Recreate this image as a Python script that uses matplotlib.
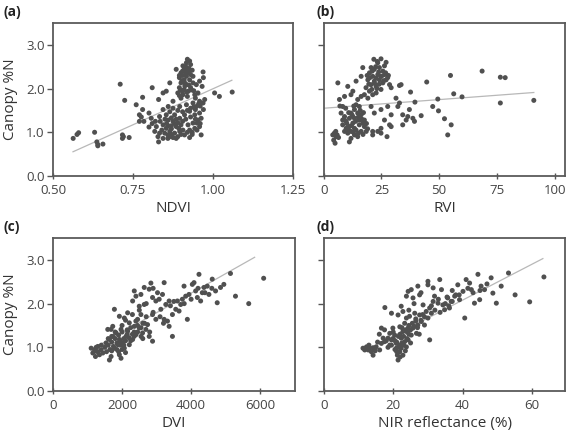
import numpy as np
import matplotlib.pyplot as plt

plt.rcParams['font.family'] = ['Open Sans', 'DejaVu Sans']

# (a) NDVI vs canopy %N
ndvi = [0.563, 0.575, 0.58, 0.63, 0.637, 0.64, 0.656, 0.64, 0.71, 0.724, 0.717, 0.72, 0.717, 0.738,
        0.76, 0.78, 0.78, 0.77, 0.776, 0.77, 0.784, 0.81, 0.80, 0.807, 0.80, 0.82, 0.83, 0.83,
        1.005, 1.02, 1.06, 0.97, 0.963, 0.969, 0.97, 0.966, 0.974,
        0.92, 0.927, 0.917, 0.93, 0.91, 0.885, 0.90, 0.92, 0.93, 0.895, 0.91, 0.927, 0.9375, 0.90,
        0.917, 0.895, 0.91, 0.93, 0.948, 0.958, 0.89, 0.906, 0.92, 0.943, 0.953, 0.90, 0.865, 0.854,
        0.844, 0.9375, 0.906, 0.917,
        0.875, 0.86, 0.875, 0.844, 0.896, 0.917, 0.9375, 0.958, 0.948, 0.969, 0.927, 0.911, 0.88,
        0.854, 0.833, 0.86, 0.875, 0.896, 0.943, 0.958, 0.953, 0.9375, 0.963,
        0.823, 0.844, 0.854, 0.87, 0.885, 0.90, 0.865, 0.849, 0.833, 0.818, 0.88, 0.896, 0.911,
        0.927, 0.943, 0.958, 0.844, 0.859, 0.875, 0.89, 0.927, 0.906, 0.922, 0.828, 0.859,
        0.87, 0.88, 0.86, 0.893, 0.95, 0.945, 0.96, 0.935, 0.915, 0.925, 0.905, 0.912, 0.923, 0.898, 0.94,
        0.905, 0.915, 0.925, 0.935, 0.895, 0.903, 0.913, 0.925, 0.933, 0.918, 0.905, 0.895, 0.945,
        0.955, 0.94, 0.93, 0.92, 0.905, 0.89, 0.865, 0.87, 0.885, 0.905, 0.915, 0.93, 0.945, 0.96,
        0.95, 0.935, 0.92, 0.885, 0.87, 0.855, 0.84, 0.835, 0.85, 0.89, 0.90, 0.865, 0.81]
n_a = [0.86, 0.95, 0.99, 1.00, 0.78, 0.72, 0.73, 0.69, 2.10, 1.73, 0.94, 0.90, 0.86, 0.88,
       1.63, 1.80, 1.52, 1.40, 1.35, 1.25, 1.25, 2.02, 1.44, 1.32, 1.12, 1.25, 1.75, 0.78,
       1.90, 1.82, 1.92, 1.52, 0.94, 2.38, 2.25, 2.05, 1.75,
       2.67, 2.63, 2.59, 2.55, 2.44, 2.44, 2.36, 2.40, 2.32, 2.25, 2.20, 2.20, 2.13, 2.13,
       2.09, 2.02, 1.98, 2.02, 2.09, 2.17, 1.90, 1.86, 1.82, 1.86, 1.90, 1.78, 2.13, 1.94,
       1.90, 2.28, 2.52, 2.28,
       1.71, 1.59, 1.55, 1.52, 1.59, 1.63, 1.67, 1.71, 1.59, 1.67, 1.48, 1.40, 1.40,
       1.40, 1.36, 1.28, 1.25, 1.32, 1.40, 1.44, 1.28, 1.21, 1.32,
       1.13, 1.17, 1.09, 1.15, 1.13, 1.17, 1.02, 0.98, 0.98, 1.02, 0.98, 1.02, 0.94,
       1.05, 1.09, 1.13, 0.86, 0.86, 0.88, 0.90, 0.88, 1.05, 1.17, 0.90, 0.94,
       1.08, 1.20, 1.15, 1.09, 1.21, 1.52, 1.60, 1.00, 2.34, 2.46, 2.30, 2.06, 1.94, 1.96, 1.95,
       2.40, 2.50, 2.36, 2.42, 2.30, 2.18, 2.12, 2.08, 1.97, 1.92, 1.94, 1.84, 1.78,
       1.65, 1.58, 1.55, 1.50, 1.47, 1.50, 1.47, 1.33, 1.30, 1.25, 1.30, 1.35, 1.30, 1.20,
       1.05, 0.95, 1.00, 0.86, 0.95, 1.20, 1.05, 1.25, 1.30, 1.22, 0.95, 0.90, 1.20]

# (b) RVI
rvi = [4.6, 5.3, 4.3, 5.8, 4.9, 6.4, 3.9, 6.1, 10.4, 6.8, 9.0, 8.2, 11.8, 12.6, 14.0, 16.2, 16.9,
       7.5, 9.0, 8.2, 9.7, 11.1, 11.8, 13.3, 14.0, 14.7, 15.4, 14.7, 16.2, 13.3, 12.6, 11.1, 9.7, 11.8,
       13.3, 14.0, 15.4, 16.9, 17.6, 14.7, 11.8, 11.1, 16.2, 18.4, 10.4, 9.0, 8.2, 17.6, 15.4, 13.3, 12.6,
       21.7, 24.8, 27.0, 23.4, 20.5, 21.9, 24.1, 25.6, 19.8, 21.2, 23.4, 26.3, 27.7, 19.1, 21.9, 24.1,
       20.5, 22.7, 25.6, 18.3, 19.8, 17.6, 21.2, 19.1, 16.2, 22.7, 24.8, 28.5, 29.2, 32.8, 33.5, 27.0,
       22.7, 24.8, 26.3,
       20.5, 21.9, 24.8, 27.7, 29.2, 26.3, 28.5, 29.2, 24.8, 21.2, 21.2, 23.4, 27.4, 24.8, 32.1, 31.3,
       32.8, 34.2, 35.7, 36.4, 37.1, 37.6, 38.6, 39.3, 39.5, 34.2, 42.2, 44.6, 47.2, 49.4, 49.7, 52.3,
       55.2, 53.7, 54.9, 56.3, 59.9, 68.6, 76.5, 76.5, 78.6, 91.0,
       10.0, 12.0, 13.8, 15.0, 16.5, 12.2, 10.8, 9.5, 13.0, 15.8, 17.2, 18.5, 19.0, 17.0, 15.0,
       12.8, 10.5, 8.8, 7.0, 5.2,
       20.0, 21.0, 22.5, 23.8, 25.0, 26.0, 22.0, 23.0, 20.8, 19.5, 24.0, 26.8, 23.2, 18.8, 28.0]
n_b = [0.98, 0.90, 0.82, 0.94, 0.75, 0.88, 0.94, 2.13, 2.05, 1.75, 1.82, 1.59, 1.86, 1.94, 2.17, 2.28, 2.48,
       1.44, 1.36, 1.28, 1.25, 1.32, 1.44, 1.52, 1.63, 1.75, 1.59, 1.44, 1.40, 1.32, 1.21, 1.13, 1.09, 1.02,
       0.94, 1.05, 1.17, 1.21, 1.13, 0.90, 0.86, 0.78, 1.02, 1.02, 0.98, 1.02, 1.17, 1.28, 1.28, 1.09, 1.36,
       2.67, 2.68, 2.60, 2.59, 2.48, 2.44, 2.48, 2.40, 2.36, 2.28, 2.32, 2.32, 2.25, 2.20, 2.17, 2.20,
       2.09, 2.05, 2.13, 2.02, 1.94, 1.86, 1.86, 1.78, 1.82, 1.90, 1.98, 2.09, 2.02, 2.07, 2.09, 2.20,
       2.24, 2.28, 2.52,
       1.59, 1.44, 1.52, 1.59, 1.40, 1.28, 1.17, 1.13, 1.09, 1.02, 0.94, 1.02, 0.90, 0.98, 1.59, 1.78,
       1.67, 1.40, 1.28, 1.36, 1.52, 1.92, 1.32, 1.25, 1.69, 1.17, 1.38, 2.15, 1.59, 1.76, 1.49, 1.31,
       1.17, 0.94, 2.30, 1.88, 1.81, 2.40, 1.67, 2.26, 2.25, 1.73,
       1.20, 1.15, 1.25, 1.35, 1.30, 1.40, 1.45, 1.55, 1.60, 1.50, 1.45, 1.20, 1.08, 0.95, 0.98,
       1.00, 1.08, 1.30, 1.60, 1.02,
       2.25, 2.40, 2.50, 2.38, 2.28, 2.18, 2.12, 2.00, 1.98, 2.10, 2.10, 2.36, 2.62, 2.30, 2.30]

# (c) DVI
dvi = [1105, 1202, 1153, 1250, 1346, 1298, 1394, 1442, 1230, 1634, 1682, 1922, 1970,
       1538, 1634, 1730, 1826, 1922, 2018, 2114, 1874, 1778, 2066, 2210, 2306, 2402, 2162, 1970,
       1682, 1730, 1586, 1778, 1922, 2066, 2162, 2210, 2354, 2450, 2498, 2594, 2690, 2786, 2883,
       2738, 2546,
       2306, 2402, 2354, 2546, 2642, 2835, 2786, 2883, 2979, 3027, 3075, 3219, 3171, 3123, 3267,
       3363, 3219, 3315, 3363, 2979, 2883, 2642, 2498,
       3459, 3555, 3651, 3699, 3603, 3747, 3843, 3795, 3939, 4035, 4084, 4131, 4180, 4276, 4324,
       4228, 4372, 4468, 4516, 4612, 4708, 4756, 4852, 4948, 5140, 5285, 3891, 3459, 5669, 6101,
       1500, 1600, 1700, 1800, 1900, 2000, 2100, 2200, 2300, 1750, 1850, 1950, 2050, 2150, 2250,
       2350, 2450, 1650, 1900, 2000, 2100, 2600, 2700, 2400, 2550,
       1400, 1550, 1700, 1850, 1950, 2050, 2150, 2250, 2350, 2450, 2550, 2650, 1800, 1700, 1600,
       2000, 2100, 2300, 2500, 2700, 2900, 3100, 3200, 3400, 3500, 3800, 4000, 4200, 4400, 4600,
       2800, 2600, 1300, 1250, 2900]
n_c = [0.98, 0.945, 0.87, 0.91, 0.83, 1.02, 0.945, 0.87, 0.79, 0.71, 0.79, 0.83, 0.75,
       1.10, 1.18, 1.25, 1.33, 1.18, 1.10, 1.25, 1.06, 0.98, 0.98, 1.06, 1.18, 1.29, 1.37, 1.41,
       1.41, 1.48, 1.41, 1.87, 1.71, 1.67, 1.79, 1.56, 1.48, 1.64, 1.44, 1.33, 1.41, 1.25, 1.14,
       1.52, 1.75,
       2.06, 2.17, 2.29, 2.21, 2.37, 2.47, 2.33, 2.14, 2.06, 2.25, 2.10, 2.48, 2.21, 1.87, 1.98,
       2.06, 1.64, 1.60, 1.48, 1.64, 1.75, 1.98, 1.94,
       1.75, 1.87, 1.83, 1.98, 2.06, 2.10, 2.17, 2.40, 2.21, 2.44, 2.48, 2.29, 2.14, 2.06, 2.25,
       2.67, 2.37, 2.40, 2.21, 2.56, 2.29, 2.02, 2.37, 2.44, 2.69, 2.17, 1.64, 1.25, 2.00, 2.58,
       1.00, 1.05, 1.12, 1.20, 1.28, 1.35, 1.15, 1.22, 1.30, 1.02, 1.10, 1.15, 1.05, 1.40, 1.45,
       1.35, 1.50, 0.95, 0.90, 0.95, 0.88, 1.55, 1.70, 1.60, 1.25,
       1.05, 0.90, 0.92, 0.95, 1.05, 1.20, 1.30, 1.15, 1.25, 1.35, 1.45, 1.55, 1.35, 1.25, 1.20,
       1.50, 1.62, 1.75, 1.85, 2.00, 1.80, 1.70, 1.55, 1.95, 2.05, 2.00, 2.10, 2.35, 2.25, 2.35,
       1.35, 1.20, 0.90, 1.00, 2.35]

# (d) NIR reflectance (%)
nir = [11.3, 11.8, 12.3, 12.8, 13.2, 13.7, 14.2, 14.2, 15.1, 16.1,
       16.6, 17.1, 17.5, 16.6, 17.5, 18.5, 19.0, 19.5, 19.9, 20.4,
       20.9, 20.9, 21.2, 21.4, 21.9, 21.9, 22.3, 22.8, 21.9, 23.3,
       23.8, 24.3, 23.3, 22.3, 22.8, 23.8, 24.3, 25.2, 25.7, 26.7,
       27.1, 28.1, 29.0, 30.0, 30.5, 31.0, 29.5, 28.6, 27.6, 26.2,
       24.7, 22.3, 22.8, 21.4, 19.5, 17.6, 23.8, 24.3, 25.2, 25.7,
       27.1, 27.6, 30.0, 30.0, 31.5, 31.9, 33.4, 33.9, 32.9, 34.3,
       34.8, 35.7, 36.7, 36.2, 37.7, 38.6, 39.1, 40.1, 40.6, 41.0,
       42.0, 42.5, 43.4, 44.4, 44.9, 45.3, 46.3, 48.2, 48.7, 49.7,
       51.1, 53.2, 55.1, 59.3, 63.4,
       20.0, 21.0, 22.0, 23.0, 24.0, 25.0, 26.0, 27.0, 28.0, 20.5, 21.5, 22.5, 23.5, 24.5,
       19.0, 18.0, 26.5, 29.0, 32.0, 35.0, 37.0, 38.0, 31.0, 33.0, 36.0,
       18.5, 19.5, 20.5, 21.5, 22.5, 23.5, 24.5, 25.5, 26.5, 20.0, 21.0, 22.0, 23.0, 24.0, 25.0,
       27.5, 28.5, 30.5, 31.5, 33.5, 35.5, 37.0, 39.0, 41.5, 43.0, 45.0, 47.0, 24.5, 26.0, 28.0,
       15.5, 16.0, 13.0, 12.0, 14.8]
n_d = [0.98, 0.94, 1.01, 0.94, 0.98, 0.90, 0.82, 0.99, 1.01, 0.94,
       1.09, 1.21, 1.13, 1.44, 1.40, 1.21, 1.32, 1.17, 1.44, 1.28,
       1.09, 0.98, 0.82, 0.71, 0.90, 1.05, 1.21, 1.36, 1.47, 1.55,
       1.67, 1.44, 1.13, 0.98, 0.82, 1.01, 1.17, 1.28, 1.44, 1.32,
       1.51, 1.59, 1.51, 1.67, 1.17, 1.78, 1.82, 1.97, 1.74, 1.78,
       1.71, 1.94, 1.82, 1.74, 1.78, 1.91, 2.17, 2.28, 2.32, 2.13,
       2.40, 2.20, 2.51, 2.43, 2.36, 2.17, 2.55, 2.32, 2.01, 1.97,
       1.86, 2.13, 2.05, 1.90, 2.17, 2.43, 2.09, 2.28, 1.67, 2.55,
       2.47, 2.32, 2.01, 2.67, 2.09, 2.40, 2.32, 2.59, 2.24, 2.01,
       2.40, 2.70, 2.20, 2.04, 2.61,
       1.20, 1.12, 1.30, 1.25, 1.35, 1.40, 1.48, 1.45, 1.62, 0.95, 1.00, 1.10, 0.92, 1.30,
       1.05, 1.15, 1.60, 1.70, 1.85, 2.00, 2.05, 2.20, 1.95, 2.10, 1.95,
       1.00, 1.05, 1.15, 1.25, 1.45, 1.40, 1.50, 1.55, 1.65, 1.35, 0.90, 0.78, 1.05, 1.20, 1.10,
       1.30, 1.75, 1.90, 2.05, 1.80, 2.15, 2.30, 2.20, 2.35, 2.25, 2.30, 2.45, 1.85, 2.00, 2.25,
       1.12, 1.30, 1.05, 0.97, 0.92]

# fitted lines (end points)
fit_a = ([0.5625, 1.059], [0.554, 2.19])
fit_b = ([0, 91], [1.55, 1.91])
fit_c = ([1200, 5840], [0.99, 3.06])
fit_d = ([12, 63.1], [0.93, 3.03])

panels = [
    ('(a)', ndvi, n_a, fit_a, 'NDVI', (0.5, 1.25), [0.5, 0.75, 1.0, 1.25], ['0.50', '0.75', '1.00', '1.25']),
    ('(b)', rvi, n_b, fit_b, 'RVI', (0, 104.7), [0, 25, 50, 75, 100], ['0', '25', '50', '75', '100']),
    ('(c)', dvi, n_c, fit_c, 'DVI', (0, 7000), [0, 2000, 4000, 6000], ['0', '2000', '4000', '6000']),
    ('(d)', nir, n_d, fit_d, 'NIR reflectance (%)', (0, 69.6), [0, 20, 40, 60], ['0', '20', '40', '60']),
]

fig = plt.figure(figsize=(5.7, 4.34), dpi=100)
boxes = [[0.093, 0.5945, 0.421, 0.3525], [0.568, 0.5945, 0.424, 0.3525],
         [0.093, 0.099, 0.424, 0.3525], [0.568, 0.099, 0.424, 0.3525]]
tag_pos = [(0.007, 0.972), (0.556, 0.972), (0.007, 0.477), (0.556, 0.477)]

for i, (tag, x, y, fit, xlabel, xlim, xt, xtl) in enumerate(panels):
    ax = fig.add_axes(boxes[i])
    ax.plot(fit[0], fit[1], color='#b8b8b8', lw=0.9, zorder=1)
    ax.scatter(x, y, s=13, color='#505050', edgecolors='none', zorder=2)
    ax.set_xlim(*xlim)
    ax.set_ylim(0, 3.5)
    ax.set_xticks(xt)
    ax.set_xticklabels(xtl)
    ax.set_yticks([0, 1, 2, 3])
    if i % 2 == 0:
        ax.set_yticklabels(['0.0', '1.0', '2.0', '3.0'])
        ax.set_ylabel('Canopy %N', fontsize=11, color='#333333', labelpad=6)
    else:
        ax.set_yticklabels([])
    ax.set_xlabel(xlabel, fontsize=11, color='#333333', labelpad=3)
    ax.tick_params(axis='x', direction='inout', length=5, width=1, color='#555555',
                   labelsize=9.5, labelcolor='#444444', pad=3)
    ax.tick_params(axis='y', direction='out', length=4, width=1, color='#555555',
                   labelsize=9.5, labelcolor='#444444', pad=2)
    for sp in ax.spines.values():
        sp.set_color('#5a5a5a')
        sp.set_linewidth(1.3)
    fig.text(tag_pos[i][0], tag_pos[i][1], tag, fontsize=10, fontweight='bold',
             color='#222222', ha='left', va='center')

fig.savefig('out.png', dpi=100)
